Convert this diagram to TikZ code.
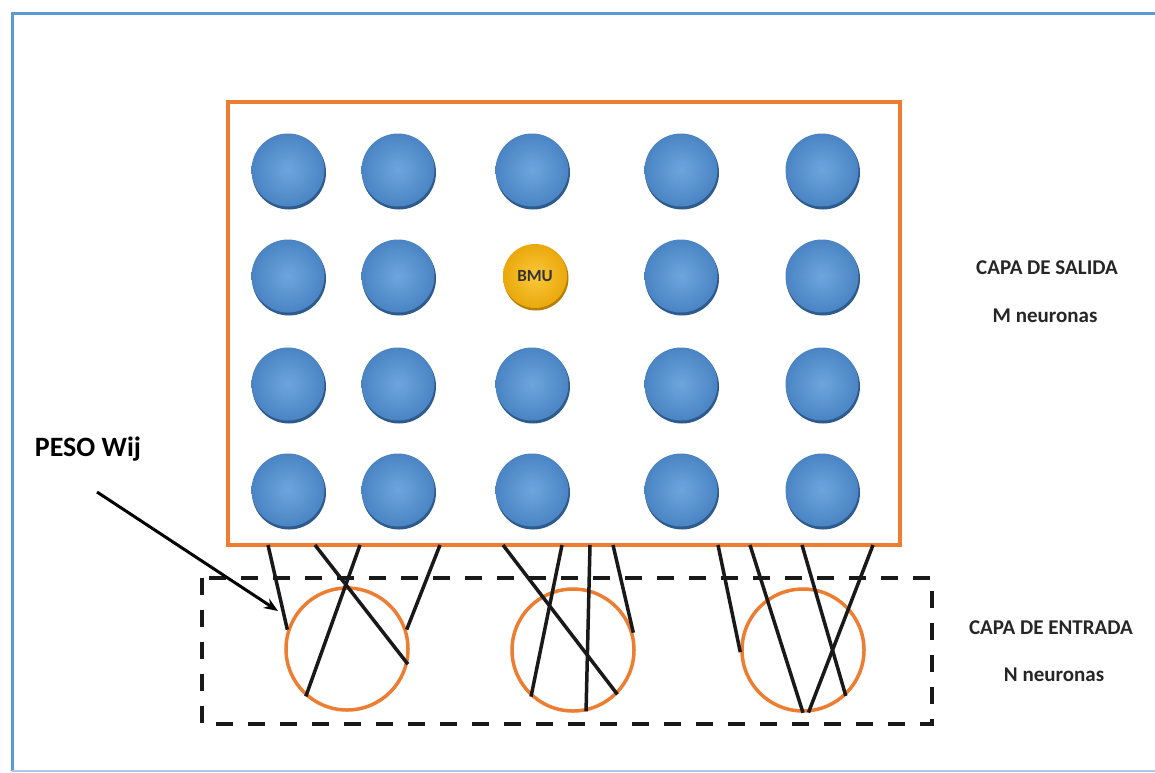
\documentclass[tikz,border=0pt]{standalone}
\usepackage{fontspec}
\setmainfont{Carlito}
\usetikzlibrary{arrows.meta}
\definecolor{framecol}{HTML}{5B9BD5}
\definecolor{framelight}{HTML}{A9CBEA}
\definecolor{boxorange}{HTML}{ED7D31}
\definecolor{ballin}{HTML}{6DA6DE}
\definecolor{ballout}{HTML}{4A84C3}
\definecolor{ballrim}{HTML}{2D5B8E}
\definecolor{bmuin}{HTML}{FAC93A}
\definecolor{bmuout}{HTML}{EAA80C}
\definecolor{bmurim}{HTML}{B67E05}
\definecolor{txtgrey}{HTML}{262626}
\tikzset{
  ballshadow/.style={circle, fill=ballrim, minimum size=74pt, inner sep=0pt},
  neuron/.style={circle, minimum size=73pt, inner sep=0pt, shade, inner color=ballin, outer color=ballout},
  bmushadow/.style={circle, fill=bmurim, minimum size=65pt, inner sep=0pt},
  bmu/.style={circle, minimum size=64pt, inner sep=0pt, shade, inner color=bmuin, outer color=bmuout,
    font=\fontsize{17}{19}\selectfont\bfseries, text=black!80},
  inneuron/.style={circle, draw=boxorange, line width=3.5pt, minimum size=122pt, inner sep=0pt},
  weight/.style={line width=3.5pt, black!90},
  sidelabel/.style={font=\fontsize{21}{24}\selectfont\bfseries, text=txtgrey, inner sep=0pt},
}
\begin{document}
\begin{tikzpicture}[x=1pt,y=-1pt]
  \useasboundingbox (0,0) rectangle (1155,772);
  \fill[white] (0,0) rectangle (1155,772);
  % outer frame (open on the right)
  \draw[framecol, line width=3pt] (1160,13) -- (12,13) -- (12,771);
  \draw[framelight, line width=2pt] (12,771) -- (1160,771);

  % output layer box
  \node[draw=boxorange, line width=4.5pt, minimum width=672pt, minimum height=443pt, inner sep=0pt]
    (salida) at (564,323.5) {};

  % grid of output neurons
  \foreach \c/\x in {1/288,2/398,3/532,4/681,5/822}{
    \foreach \r/\y in {1/170,2/276,3/384,4/490}{
      \ifnum\c=3 \ifnum\r=2 \else
        \node[ballshadow] at (\x+1,\y+2.5) {};
        \node[neuron] (n\r\c) at (\x,\y) {};
      \fi\else
        \node[ballshadow] at (\x+1,\y+2.5) {};
        \node[neuron] (n\r\c) at (\x,\y) {};
      \fi
    }
  }
  % best matching unit
  \node[bmushadow] at (536,278) {};
  \node[bmu] (n23) at (535,276) {BMU};

  % input layer box
  \draw[black!90, line width=4pt, dash pattern=on 17pt off 15pt] (202,578) rectangle (932,724);

  % input neurons
  \node[inneuron] (in1) at (347,649) {};
  \node[inneuron] (in2) at (573,650) {};
  \node[inneuron] (in3) at (803,650) {};

  % weight connections start on the bottom edge of the output box
  \foreach \n/\x in {a/268,b/315,c/360,d/440,e/503,f/562,g/590,h/613,i/718,j/750,k/802,l/873}{
    \coordinate (s\n) at (\x,545);
  }
  \draw[weight] (sa) -- (in1.162);
  \draw[weight] (sb) -- (in1.346);
  \draw[weight] (sc) -- (in1.229);
  \draw[weight] (sd) -- (in1.18);
  \draw[weight] (se) -- (in2.315);
  \draw[weight] (sf) -- (in2.228);
  \draw[weight] (sg) -- (in2.282);
  \draw[weight] (sh) -- (in2.16);
  \draw[weight] (si) -- (in3.182);
  \draw[weight] (sj) -- (in3.270);
  \draw[weight] (sk) -- (in3.313);
  \draw[weight] (sl) -- (in3.275);

  % weight label and pointer
  \node[font=\fontsize{28}{32}\selectfont\bfseries, inner sep=0pt] (peso) at (88,449) {PESO Wij};
  \coordinate (pa) at (97,492);
  \coordinate (pb) at (278,611);
  \draw[line width=3pt, -{Stealth[length=14pt, width=11pt]}] (pa) -- (pb);

  % layer labels
  \node[sidelabel] (salidaA) at (1047,268) {CAPA DE SALIDA};
  \node[sidelabel] (salidaB) at (1045,316) {M neuronas};
  \node[sidelabel] (entradaA) at (1051,628) {CAPA DE ENTRADA};
  \node[sidelabel] (entradaB) at (1054,675) {N neuronas};
\end{tikzpicture}
\end{document}
